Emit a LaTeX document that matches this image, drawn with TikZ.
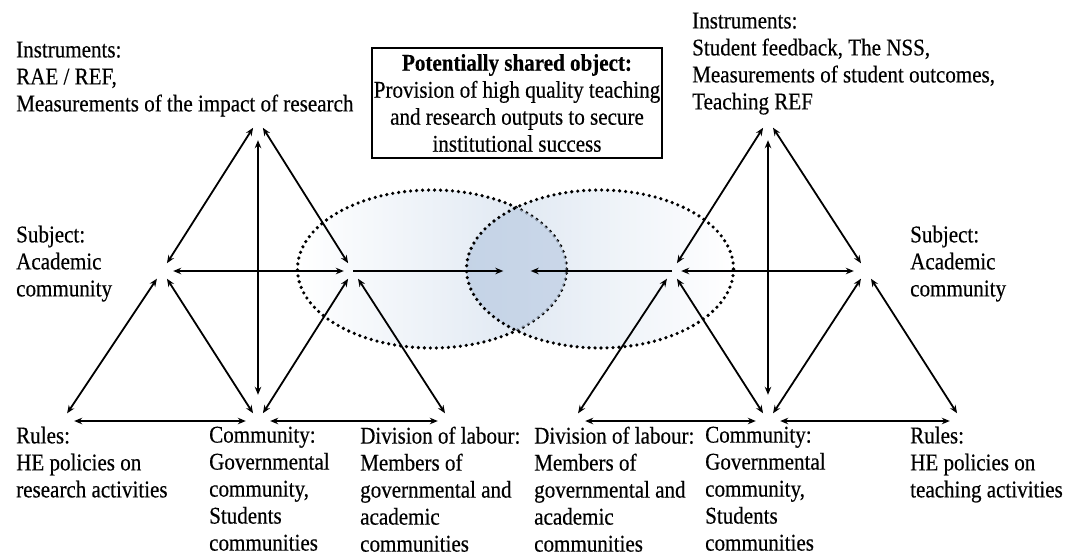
\documentclass[tikz,border=0pt]{standalone}
\usepackage{fontspec}
\setmainfont{Liberation Serif}[FakeStretch=0.877, FakeBold=0.4]
\usepackage{xcolor}
\usepackage{tikz}
\usetikzlibrary{arrows.meta}
\definecolor{ovalblue}{RGB}{218,228,240}
\definecolor{overlapblue}{RGB}{186,203,226}

\begin{document}
\begin{tikzpicture}[x=1pt, y=-1pt,
    dots/.style={line width=3.6pt, dash pattern=on 0pt off 6pt, line cap=round},
    lbl/.style={font=\fontsize{24}{27}\selectfont, align=left, anchor=north west, inner sep=0pt}]
      \useasboundingbox (0,0) rectangle (1067,555);

      % the two objects
      \shade[left color=white, right color=ovalblue] (432,269) ellipse [x radius=134.5pt, y radius=79pt];
      \shade[left color=ovalblue, right color=white] (600,269) ellipse [x radius=133.5pt, y radius=79pt];
      \draw[dots] (432,269) ellipse [x radius=134.5pt, y radius=79pt];
      \begin{scope}
          \clip (432,269) ellipse [x radius=134.5pt, y radius=79pt];
          \fill[overlapblue, fill opacity=0.65] (600,269) ellipse [x radius=133.5pt, y radius=79pt];
      \end{scope}
      \draw[dots] (600,269) ellipse [x radius=133.5pt, y radius=79pt];

      \node[lbl] (instL) at (16,41.5) {Instruments:\\RAE / REF,\\Measurements of the impact of research};
      \node[lbl] (instR) at (692,12.5) {Instruments:\\Student feedback, The NSS,\\Measurements of student outcomes,\\Teaching REF};
      \node[lbl] (subjL) at (16,225.5) {Subject:\\Academic\\community};
      \node[lbl] (subjR) at (910,225.5) {Subject:\\Academic\\community};
      \node[lbl] (rulesL) at (16,426.5) {Rules:\\HE policies on\\research activities};
      \node[lbl] (commL) at (209,426.5) {Community:\\Governmental\\community,\\Students\\communities};
      \node[lbl] (divL) at (360,426.5) {Division of labour:\\Members of\\governmental and\\academic\\communities};
      \node[lbl] (divR) at (534,426.5) {Division of labour:\\Members of\\governmental and\\academic\\communities};
      \node[lbl] (commR) at (705,426.5) {Community:\\Governmental\\community,\\Students\\communities};
      \node[lbl] (rulesR) at (910,426.5) {Rules:\\HE policies on\\teaching activities};

      \node[draw, line width=2pt, minimum width=290pt, minimum height=110pt, inner sep=0pt,
            align=center, font=\fontsize{24}{27}\selectfont] (shared) at (517,103)
            {\textbf{Potentially shared object:}\\Provision of high quality teaching\\and research outputs to secure\\institutional success};

      \begin{scope}[every node/.style={circle, inner sep=0pt, minimum size=18pt}]
          \node (I1) at (258,120) {};
          \node (S1) at (162,271) {};
          \node (O1) at (353,271) {};
          \node (R1) at (62,421) {};
          \node (C1) at (258,421) {};
          \node (D1) at (450,421) {};
          \node (I2) at (768,120) {};
          \node (O2) at (672,271) {};
          \node (S2) at (866,271) {};
          \node (D2) at (573,421) {};
          \node (C2) at (768,421) {};
          \node (R2) at (962,421) {};
          \node[minimum size=27pt] (X) at (517,271) {};
      \end{scope}

      \begin{scope}[>={Stealth[length=8pt, width=6.5pt]}, line width=1.8pt,
                    every edge/.style={draw}]
          \path [<->] (I1) edge (S1);
          \path [<->] (I1) edge (O1);
          \path [<->] (S1) edge (R1);
          \path [<->] (S1) edge (C1);
          \path [<->] (O1) edge (C1);
          \path [<->] (O1) edge (D1);
          \path [<->, shorten <=11pt, shorten >=17pt] (I1) edge (C1);
          \path [<->, shorten <=3pt, shorten >=3pt] (R1) edge (C1);
          \path [<->, shorten <=3pt, shorten >=3pt] (C1) edge (D1);
          \path [<->, shorten <=2pt] (S1) edge (O1);
          \path [->] (O1.center) edge (X);
          \path [<->] (I2) edge (O2);
          \path [<->] (I2) edge (S2);
          \path [<->] (O2) edge (D2);
          \path [<->] (O2) edge (C2);
          \path [<->] (S2) edge (C2);
          \path [<->] (S2) edge (R2);
          \path [<->, shorten <=11pt, shorten >=17pt] (I2) edge (C2);
          \path [<->, shorten <=3pt, shorten >=3pt] (D2) edge (C2);
          \path [<->, shorten <=3pt, shorten >=3pt] (C2) edge (R2);
          \path [<->, shorten >=3pt] (O2) edge (S2);
          \path [->] (O2.center) edge (X);
      \end{scope}
\end{tikzpicture}
\end{document}
